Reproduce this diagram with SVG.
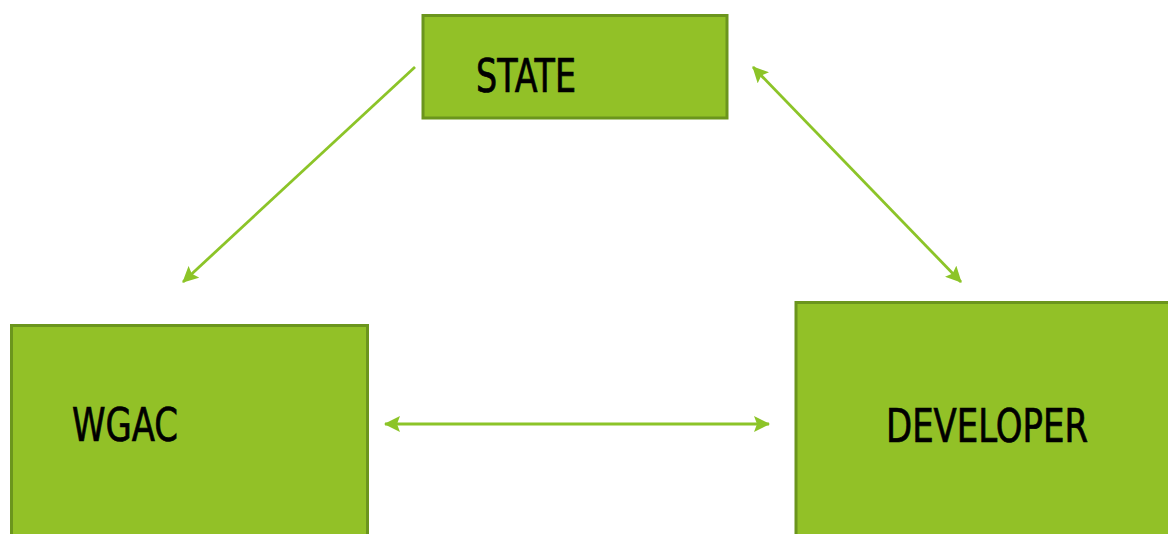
<svg xmlns="http://www.w3.org/2000/svg" width="1168" height="534" viewBox="0 0 1168 534">
<style>
.box{fill:#92c127;stroke:#6b951d;stroke-width:3}
.lbl{font-family:"DejaVu Sans Condensed","DejaVu Sans",sans-serif;font-size:46px;fill:#000;stroke:#000;stroke-width:0.7}
.con{stroke:#8cc428;stroke-width:2.8;fill:none}
</style>
<defs>
<marker id="ah" viewBox="0 0 16 16" refX="15" refY="8" markerWidth="16" markerHeight="16" markerUnits="userSpaceOnUse" orient="auto-start-reverse">
<path d="M0,0 L16,8 L0,16 L3,8 Z" fill="#8cc428"/>
</marker>
</defs>
<rect width="1168" height="534" fill="#fff"/>
<g id="connectors">
<line class="con" x1="415" y1="67" x2="183" y2="282" marker-end="url(#ah)"/>
<line class="con" x1="753" y1="67" x2="961" y2="282" marker-start="url(#ah)" marker-end="url(#ah)"/>
<line class="con" x1="385" y1="424" x2="769" y2="424" marker-start="url(#ah)" marker-end="url(#ah)"/>
</g>
<g id="state">
<rect class="box" x="423" y="15.5" width="304" height="102.5"/>
<text class="lbl" x="476" y="92" textLength="100" lengthAdjust="spacingAndGlyphs">STATE</text>
</g>
<g id="wgac">
<rect class="box" x="11.5" y="325.5" width="356" height="220"/>
<text class="lbl" x="72" y="441" textLength="106" lengthAdjust="spacingAndGlyphs">WGAC</text>
</g>
<g id="developer">
<rect class="box" x="796" y="302.5" width="390" height="240"/>
<text class="lbl" x="886" y="442" textLength="202" lengthAdjust="spacingAndGlyphs">DEVELOPER</text>
</g>
</svg>
